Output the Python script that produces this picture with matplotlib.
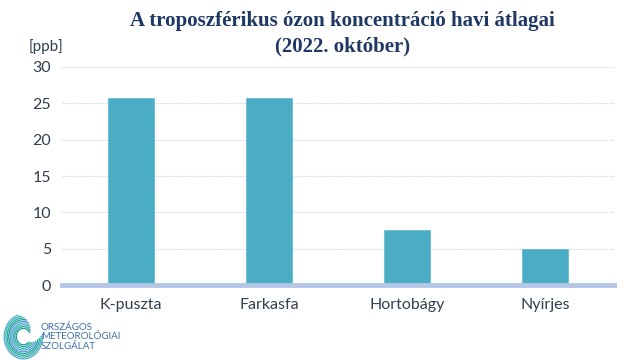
import matplotlib
matplotlib.use("Agg")
import matplotlib.pyplot as plt
import numpy as np
from matplotlib.patches import Arc

categories = ["K-puszta", "Farkasfa", "Hortobágy", "Nyírjes"]
values = [25.8, 25.7, 7.6, 5.0]
yticks = [0, 5, 10, 15, 20, 25, 30]

fig = plt.figure(figsize=(6.4, 3.6), dpi=100)
ax = fig.add_axes([0.097, 0.208, 0.862, 0.606])
x = np.arange(len(categories))
ax.bar(x, values, width=0.33, color="#4BACC6", edgecolor="#5CB8D0", linewidth=0.5, zorder=3)
ax.set_xlim(-0.5, 3.5)
ax.set_ylim(0, 30)
ax.set_yticks(yticks)
ax.set_xticks(x)
ax.set_xticklabels(categories)
for s in ["top", "right", "left"]:
    ax.spines[s].set_visible(False)
ax.spines["bottom"].set_color("#B4C7E7")
ax.spines["bottom"].set_linewidth(3.5)
ax.spines["bottom"].set_zorder(4)
ax.yaxis.grid(True, color="#C9D5E8", linestyle=(0, (1, 1)), linewidth=0.8, zorder=0)
ax.tick_params(axis="both", length=0, labelsize=11.5, labelcolor="#333F50", pad=8)
ax.tick_params(axis="x", pad=9)
for lbl in ax.get_xticklabels() + ax.get_yticklabels():
    lbl.set_family("Lato")

fig.text(0.535, 0.942, "A troposzférikus ózon koncentráció havi átlagai",
         ha="center", va="center", fontsize=15, fontweight="bold",
         family="Liberation Serif", color="#1F3864")
fig.text(0.535, 0.872, "(2022. október)", ha="center", va="center", fontsize=15,
         fontweight="bold", family="Liberation Serif", color="#1F3864")
fig.text(0.045, 0.87, "[ppb]", ha="left", va="center", fontsize=11,
         family="Lato", color="#333F50")

# logo
lax = fig.add_axes([0.005, 0.0, 0.063, 0.13])
lax.set_xlim(-1, 1)
lax.set_ylim(-1, 1)
lax.axis("off")
cols = ["#1B9E9A", "#27A7A0", "#3BB3A6", "#4FA8D8", "#5B9BD5"]
for i, r in enumerate(np.linspace(0.35, 0.95, 9)):
    lax.add_patch(Arc((0, 0), 2 * r, 2 * r, theta1=25 + i * 10, theta2=320 + i * 6,
                      color=cols[i % len(cols)], lw=0.9))
fig.text(0.064, 0.064, "ORSZÁGOS\nMETEOROLÓGIAI\nSZOLGÁLAT", ha="left", va="center",
         fontsize=7, family="Lato", color="#3E6FA8", linespacing=1.05)

fig.savefig("out.png", dpi=100)
